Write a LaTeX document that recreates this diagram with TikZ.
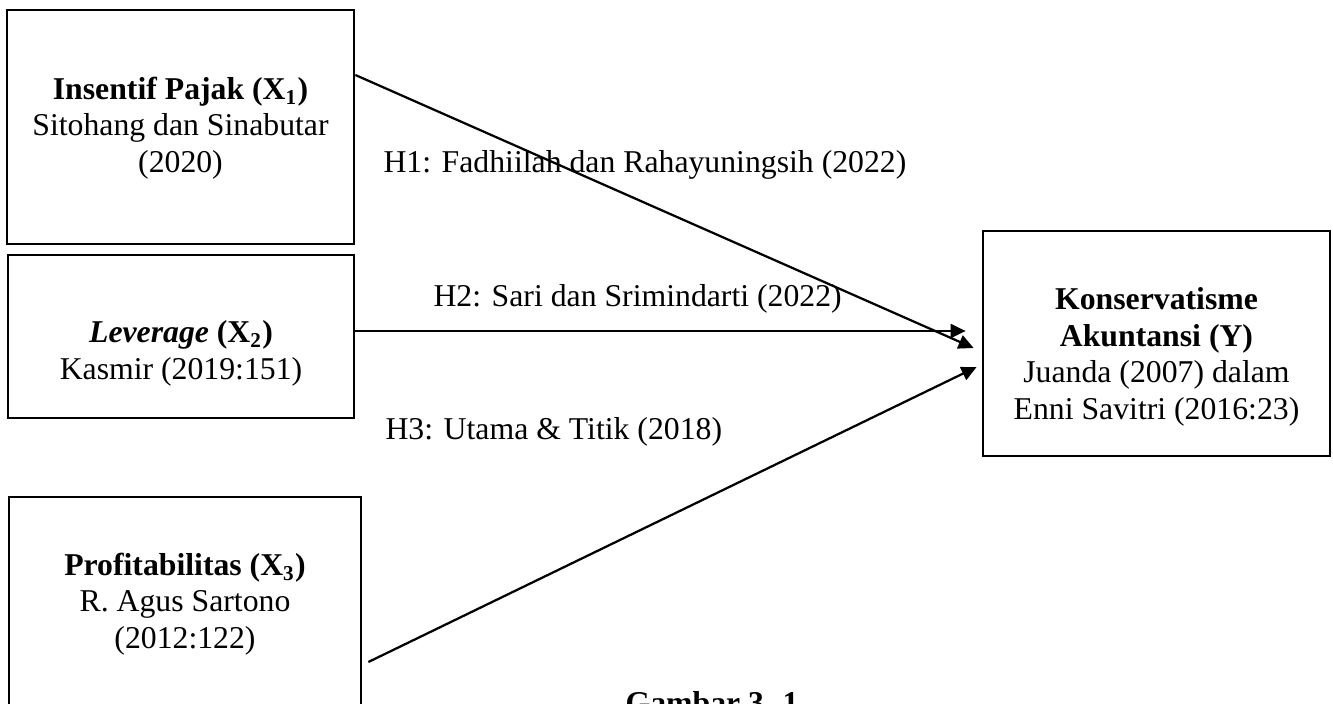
\documentclass[tikz,border=0pt]{standalone}
\usepackage{fontspec}
\setmainfont{Liberation Serif}
\usetikzlibrary{positioning,calc,arrows.meta}

\begin{document}
\begin{tikzpicture}[
    x=0.378pt, y=-0.378pt,
    every node/.style={align=center, inner sep=0pt, font=\fontsize{12}{13.8}\selectfont},
    varbox/.style={draw, line width=1pt},
    hyp/.style={anchor=base west},
    link/.style={draw, line width=0.85pt, -{Triangle[length=5.7pt,width=5.3pt]}}
]
\useasboundingbox (0,0) rectangle (1333,704);

% boxes of the variables
\node[varbox, minimum width=131.2pt, minimum height=88.5pt] (x1) at (180.5,127) {};
\node[varbox, minimum width=130.8pt, minimum height=61.6pt] (x2) at (181,336.5) {};
\node[varbox, minimum width=133.1pt, minimum height=81.6pt] (x3) at (185,605) {};
\node[varbox, minimum width=131.2pt, minimum height=85.1pt] (y) at (1156.5,343.5) {};

\node (x1txt) at ($(x1.center)+(0,1)$) {\textbf{Insentif Pajak (X\textsubscript{1})}\\Sitohang dan Sinabutar\\(2020)};
\node (x2txt) at ($(x2.center)+(0,17)$) {\textbf{\textit{Leverage} (X\textsubscript{2})}\\Kasmir (2019:151)};
\node (x3txt) at ($(x3.center)+(0,-1)$) {\textbf{Profitabilitas (X\textsubscript{3})}\\R. Agus Sartono\\(2012:122)};
\node (ytxt) at ($(y.center)+(0,13.5)$) {\textbf{Konservatisme}\\\textbf{Akuntansi (Y)}\\Juanda (2007) dalam\\Enni Savitri (2016:23)};

% hypotheses
\draw[link] ($(x1.east)+(0,-52)$) -- ($(y.west)+(-8,4.5)$);
\draw[link] ($(x2.east)+(0,-5.5)$) -- ($(y.west)+(-16,-12.5)$);
\draw[link] ($(x3.east)+(6,57)$) -- ($(y.west)+(-5,23.5)$);

\node[hyp] (h1) at (383,173) {H1: Fadhiilah dan Rahayuningsih (2022)};
\node[hyp] (h2) at (433,307) {H2: Sari dan Srimindarti (2022)};
\node[hyp] (h3) at (385,440) {H3: Utama \& Titik (2018)};

\node[anchor=base] (cap) at (712,713) {\textbf{Gambar 3. 1}};
\end{tikzpicture}
\end{document}
